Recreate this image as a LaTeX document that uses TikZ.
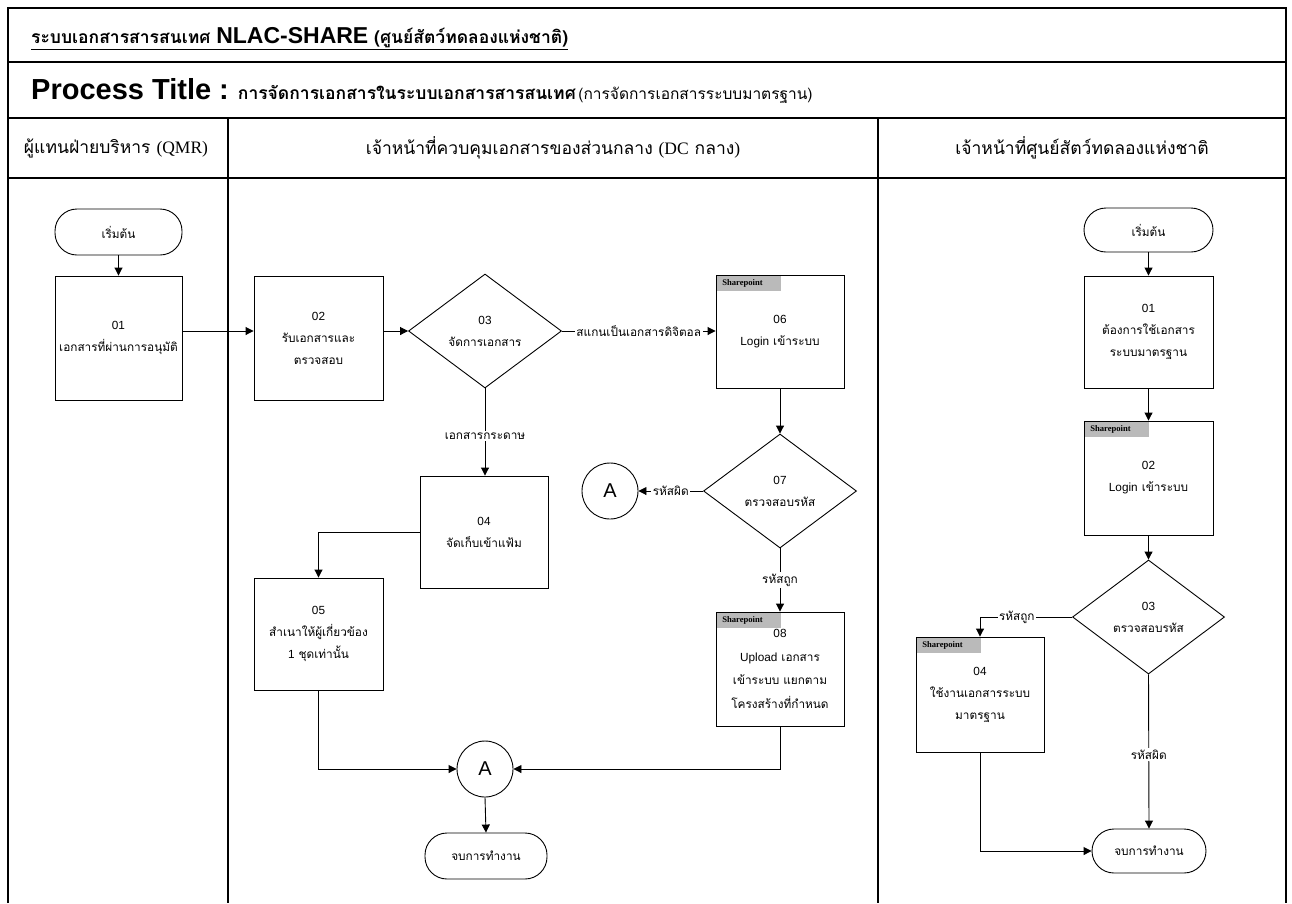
\documentclass[tikz,border=0pt]{standalone}
\usepackage{fontspec}
\setmainfont{Liberation Serif}
\newfontfamily\thfont[Script=Thai]{Loma}
\newfontfamily\arialfont{Liberation Sans}
\newcommand{\lt}[1]{{\arialfont #1}}
\usetikzlibrary{arrows.meta,shapes.geometric}
\begin{document}
\begin{tikzpicture}[x=1pt,y=-1pt,
  frame/.style={line width=1.5pt},
  flow/.style={line width=0.9pt,-{Triangle[length=8pt,width=8pt]}},
  proc/.style={draw,line width=0.9pt,minimum width=128pt,align=center,inner sep=2pt,
    font=\thfont\fontsize{11.8}{22}\selectfont},
  term/.style={draw,line width=0.9pt,rounded corners=22pt,minimum height=46pt,inner sep=0pt,
    font=\thfont\fontsize{11.8}{13}\selectfont},
  deci/.style={draw,diamond,line width=0.9pt,minimum width=153pt,minimum height=114pt,
    aspect=1.35,inner sep=0pt,align=center,font=\thfont\fontsize{11.8}{22}\selectfont},
  conn/.style={draw,circle,line width=0.9pt,minimum size=56pt,inner sep=0pt,
    font=\arialfont\fontsize{20}{20}\selectfont},
  lbl/.style={fill=white,inner sep=1.5pt,font=\thfont\fontsize{11.8}{13}\selectfont},
  tag/.style={fill=black!27,anchor=north west,minimum height=15pt,text width=54pt,
    inner xsep=5pt,inner ysep=0pt,font=\bfseries\fontsize{8.6}{9}\selectfont},
  hdr/.style={font=\thfont\fontsize{17.5}{20}\selectfont},
]
\useasboundingbox (0,0) rectangle (1292,903);

% table frame
\draw[frame] (8,903) -- (8,8) -- (1286,8) -- (1286,903);
\draw[frame] (8,62) -- (1286,62);
\draw[frame] (8,118) -- (1286,118);
\draw[frame] (8,178) -- (1286,178);
\draw[frame] (228,118) -- (228,903);
\draw[frame] (878,118) -- (878,903);

% title rows
\node[anchor=west,inner sep=0pt] (sysname) at (31,39)
  {\underline{\thfont\bfseries\fontsize{17.5}{19}\selectfont ระบบเอกสารสารสนเทศ
   {\arialfont\fontsize{23}{24}\selectfont NLAC-SHARE} (ศูนย์สัตว์ทดลองแห่งชาติ)}};
\node[anchor=west,inner sep=0pt] (ptitle) at (31,91)
  {{\arialfont\bfseries\fontsize{29}{30}\selectfont Process Title :}\hspace{9pt}%
   {\thfont\fontsize{17.5}{19}\selectfont\bfseries การจัดการเอกสารในระบบเอกสารสารสนเทศ}
   {\thfont\fontsize{15.5}{17}\selectfont (การจัดการเอกสารระบบมาตรฐาน)}};

% lane headers
\node[hdr] (lane1) at (116,148) {ผู้แทนฝ่ายบริหาร {\rmfamily (QMR)}};
\node[hdr] (lane2) at (553,148) {เจ้าหน้าที่ควบคุมเอกสารของส่วนกลาง {\rmfamily (DC} กลาง{\rmfamily )}};
\node[hdr] (lane3) at (1082,148) {เจ้าหน้าที่ศูนย์สัตว์ทดลองแห่งชาติ};

% ---- QMR and central DC lanes
\node[term,minimum width=127pt] (s1) at (118.5,232) {เริ่มต้น};
\node[proc,minimum width=127pt,minimum height=124pt] (p1) at (118.5,338) {\lt{01}\\เอกสารที่ผ่านการอนุมัติ};
\node[proc,minimum width=129pt,minimum height=124pt] (p2) at (318.5,338) {\lt{02}\\รับเอกสารและ\\ตรวจสอบ};
\node[deci] (d3) at (485,331) {\lt{03}\\จัดการเอกสาร};
\node[proc,minimum height=113pt] (p6) at (780,331.5) {\lt{06}\\\lt{Login} เข้าระบบ};
\node[tag] (t6) at ([xshift=1.5pt,yshift=-1.5pt]p6.north west) {Sharepoint};
\node[deci] (d7) at (780,491) {\lt{07}\\ตรวจสอบรหัส};
\node[conn] (a1) at (610,491) {A};
\node[proc,minimum height=114pt,font=\thfont\fontsize{11.8}{23.5}\selectfont] (p8) at (780,669)
  {\lt{08}\\\lt{Upload} เอกสาร\\เข้าระบบ แยกตาม\\โครงสร้างที่กำหนด};
\node[tag] (t8) at ([xshift=1.5pt,yshift=-1.5pt]p8.north west) {Sharepoint};
\node[proc,minimum height=112pt] (p4) at (484,532) {\lt{04}\\จัดเก็บเข้าแฟ้ม};
\node[proc,minimum width=129pt,minimum height=112pt] (p5) at (318.5,634) {\lt{05}\\สำเนาให้ผู้เกี่ยวข้อง\\\lt{1} ชุดเท่านั้น};
\node[conn] (a2) at (485,769) {A};
\node[term,minimum width=122pt] (e1) at (486,856) {จบการทำงาน};

\draw[flow] (s1) -- (p1);
\draw[flow] (p1.east |- d3) -- (p2.west |- d3);
\draw[flow] (p2.east |- d3) -- (d3.west);
\draw[flow] (d3.east) -- node[lbl] {สแกนเป็นเอกสารดิจิตอล} (d3.east -| p6.west);
\draw[flow] (d3.south) -- node[lbl,pos=0.55] {เอกสารกระดาษ} (d3.south |- p4.north);
\draw[flow] (p6.south) -- (d7.north);
\draw[flow] (d7.west) -- node[lbl] {รหัสผิด} (a1.east);
\draw[flow] (d7.south) -- node[lbl] {รหัสถูก} (p8.north);
\draw[flow] (p4.west) -| (p5.north);
\draw[flow] (p5.south) |- (a2.west);
\draw[flow] (p8.south) |- (a2.east);
\draw[flow] (a2.south) -- (e1.north);

% ---- national laboratory animal centre lane
\node[term,minimum width=129pt,minimum height=44pt] (s2) at (1148.5,230) {เริ่มต้น};
\node[proc,minimum width=129pt,minimum height=112pt] (q1) at (1148.5,332) {\lt{01}\\ต้องการใช้เอกสาร\\ระบบมาตรฐาน};
\node[proc,minimum width=129pt,minimum height=114pt] (q2) at (1148.5,478) {\lt{02}\\\lt{Login} เข้าระบบ};
\node[tag] (tq2) at ([xshift=1.5pt,yshift=-1.5pt]q2.north west) {Sharepoint};
\node[deci,minimum width=152pt] (r3) at (1148.5,617) {\lt{03}\\ตรวจสอบรหัส};
\node[proc,minimum height=115pt] (q4) at (980,694.5) {\lt{04}\\ใช้งานเอกสารระบบ\\มาตรฐาน};
\node[tag] (tq4) at ([xshift=1.5pt,yshift=-1.5pt]q4.north west) {Sharepoint};
\node[term,minimum width=114pt,minimum height=44pt] (e2) at (1149,851) {จบการทำงาน};

\draw[flow] (s2) -- (q1);
\draw[flow] (q1) -- (q2);
\draw[flow] (q2.south) -- (r3.north);
\draw[flow] (r3.west) -| node[lbl,pos=0.3] {รหัสถูก} (q4.north);
\draw[flow] (r3.south) -- node[lbl,pos=0.52] {รหัสผิด} (e2.north);
\draw[flow] (q4.south) |- (e2.west);
\end{tikzpicture}
\end{document}
